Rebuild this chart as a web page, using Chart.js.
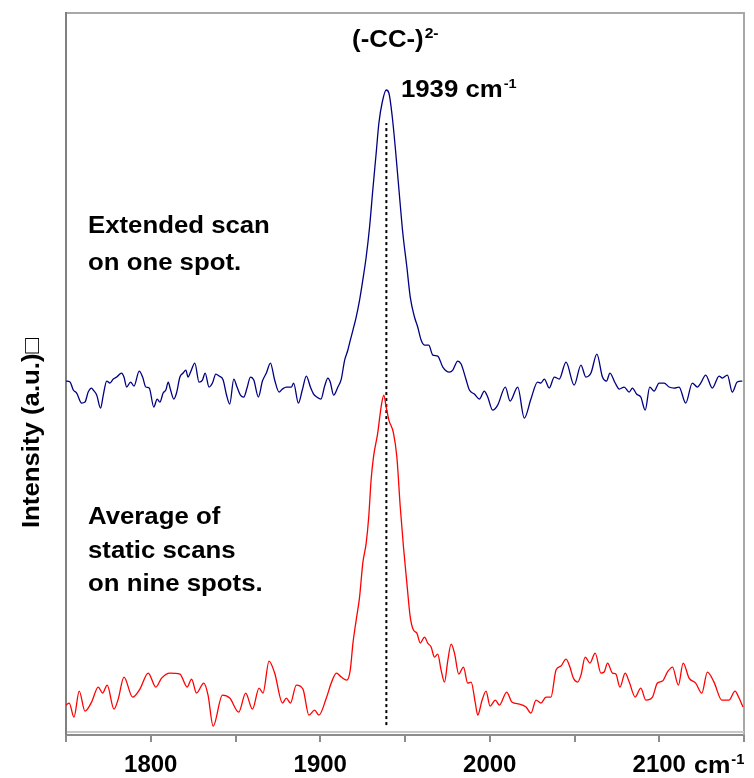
<!DOCTYPE html>
<html>
<head>
<meta charset="utf-8">
<script src="https://cdn.jsdelivr.net/npm/chart.js@4.4.1/dist/chart.umd.min.js"></script>
<style>
    html, body { margin: 0; padding: 0; background: #ffffff; }
    #wrap { width: 754px; height: 778px; position: relative; }
</style>
</head>
<body>
<div id="wrap"><canvas id="spectra"></canvas></div>
<script>
/*
    Raman spectra of the (-CC-)2- band, two measurements offset vertically.
*/

//Extended scan on one spot (blue), wavenumber in cm-1 and intensity in a.u.
const blueWn = [1750,1752.4,1754.3,1756.3,1759.2,1761.2,1763.1,1765.1,1766.1,1768.1,
    1770.4,1772,1774,1775.9,1777.9,1779.9,1782.8,1784.2,1785.8,1788.1,
    1790.1,1793.2,1795.2,1797.1,1799.1,1801.8,1803.8,1805.4,1807.3,1808.9,
    1810.3,1811.7,1813.6,1815.2,1817.2,1819.1,1820.7,1822,1823.5,1826,
    1828.5,1830.5,1832.1,1834.4,1836.4,1838.4,1840.3,1842.7,1844.7,1846.6,
    1849,1850.9,1852.9,1854.9,1856.8,1858.8,1860.8,1863.5,1865.9,1868.2,
    1870.6,1873.1,1875.7,1877.7,1880,1883,1884.3,1887.1,1889.4,1891.8,
    1894.2,1896.1,1898,1900.4,1902.6,1904.5,1905.9,1907.9,1910.4,1912.4,
    1914.4,1916.3,1917.3,1919.3,1921.2,1923.2,1925.1,1927.1,1929.1,1931,
    1933,1934.6,1936.6,1938.9,1940.5,1942.5,1944.4,1946.8,1948.7,1951.1,
    1953.1,1955.6,1957.5,1959.5,1961.5,1964,1966.4,1969.3,1972.3,1976.2,
    1978.2,1981.1,1983.1,1986.1,1988,1990.9,1993.9,1996.8,1998.8,2001.7,
    2004.7,2009.2,2012,2016.5,2020.4,2024.3,2028.2,2030.2,2032.2,2035.1,
    2038.1,2041,2045,2049.8,2053.8,2056.7,2059.7,2063.2,2066.5,2068.9,
    2070.9,2074,2076.4,2079.3,2082.3,2084.2,2086.6,2089.1,2091.7,2094.4,
    2097,2099.9,2102.9,2105.8,2108.8,2111.7,2115.6,2119.5,2122.5,2124.5,
    2127.4,2131.3,2135.3,2137.2,2140.2,2143.1,2146,2149];
const blueI = [352,351,343,340,330,331,341,345,343,338,
    325,338,352,350,354,356,360,356,346,351,
    347,362,356,346,345,326,334,331,340,343,
    351,343,334,340,356,360,363,356,361,370,
    351,353,360,346,350,359,357,353,338,329,
    354,346,338,336,345,356,353,336,352,360,
    370,353,341,344,346,346,350,330,343,357,
    346,339,336,334,347,355,351,338,346,354,
    373,383,390,403,416,433,453,476,506,543,
    580,610,631,643,640,616,583,536,500,466,
    436,416,406,393,388,388,378,377,366,361,
    363,372,369,353,343,339,334,342,336,323,
    328,346,332,346,315,334,351,350,354,345,
    356,354,371,348,368,356,360,379,356,352,
    360,350,344,346,341,345,339,336,323,346,
    342,350,350,346,345,346,330,350,346,350,
    358,345,357,355,358,341,351,352];

//Average of static scans on nine spots (red)
const redWn = [1750,1751.9,1754.7,1757.8,1761.2,1765.1,1769,1771.6,1774.3,1778.3,
    1780.8,1784.2,1789.3,1793.6,1798.5,1803,1806.4,1811.3,1817.2,1821.5,
    1824.1,1827,1831.3,1833.8,1836.8,1842.3,1846.6,1851.9,1856,1860,
    1863.9,1866.2,1869.8,1873.1,1877.7,1880,1882.4,1885.9,1889.8,1893.3,
    1896.7,1899.2,1903.6,1906.5,1909.5,1912.4,1915.7,1917.7,1919.3,1921.2,
    1923.2,1925.1,1927.1,1928.6,1930,1931.4,1933.9,1935.9,1937.5,1938.9,
    1940.5,1943.2,1945.2,1947.2,1949.1,1951.1,1953.1,1955,1957,1959,
    1961.5,1963.4,1965.4,1967.4,1969.3,1971.3,1973.3,1975.2,1977.2,1979.2,
    1981.7,1984.5,1987,1989,1991.5,1992.9,1995.5,1997.8,2000.2,2003.3,
    2005.7,2010,2013.1,2017.4,2021.4,2024.3,2027.3,2030.2,2033.2,2036.1,
    2039.1,2042,2045,2047.3,2049.3,2051.8,2053.8,2056.3,2059.1,2062.2,
    2065.6,2067.5,2069.5,2072.4,2074.4,2076.8,2079.9,2082.3,2085.8,2089.1,
    2092.1,2096,2098.9,2101.9,2104.8,2107.8,2111.3,2114.1,2117.6,2121.5,
    2125.1,2128.4,2132.3,2136.9,2141.2,2144.7,2147.1,2149.4];
const redI = [28,30,16,42,22,31,46,40,48,24,
    34,56,36,44,60,46,55,60,59,46,
    54,40,50,38,7,38,35,21,40,24,
    45,40,72,60,30,35,30,48,44,18,
    23,18,35,50,60,56,53,63,90,113,
    136,170,190,216,253,276,300,326,338,326,
    313,300,276,226,186,150,116,103,100,90,
    96,90,86,76,79,63,51,72,89,80,
    59,66,50,51,30,18,33,42,27,33,
    28,41,31,29,26,20,33,30,36,36,
    63,67,74,66,55,51,58,76,70,80,
    60,61,70,60,59,46,60,51,36,45,
    33,36,50,52,61,66,48,70,55,50,
    40,61,51,33,33,42,35,26];

//Peak marker (dotted line) and axis settings
const peakWn = 1939;
const peakSpan = [8, 610];
const xMin = 1750, xMax = 2150, xStep = 50, xLabelStep = 100;
const yMin = -2, yMax = 720;

//Text labels, anchored in data units (left edge, baseline)
const notes = [
    {text: "(-CC-)", sup: "2-", wn: 1918.8, at: 686, size: 23, supSize: 14},
    {text: "1939 cm", sup: "-1", wn: 1947.6, at: 636, size: 23, supSize: 13},
    {text: "Extended scan", wn: 1763, at: 500, size: 23},
    {text: "on one spot.", wn: 1763, at: 463, size: 23},
    {text: "Average of", wn: 1763, at: 209, size: 23},
    {text: "static scans", wn: 1763, at: 175, size: 23},
    {text: "on nine spots.", wn: 1763, at: 142, size: 23},
];
const yTitle = "Intensity (a.u.)\u25A1";

const FONT = '"Liberation Sans", Arial, sans-serif';
const STRETCH = 1.12;

function toPoints(xs, ys){
    return xs.map((x, i) => ({x: x, y: ys[i]}));
}

//Draws bold text with a slight horizontal stretch, returns its width
function boldText(ctx, str, x, y, size, stretch){
    ctx.save();
    ctx.translate(x, y);
    ctx.scale(stretch, 1);
    ctx.font = `bold ${size}px ${FONT}`;
    ctx.fillStyle = "#000000";
    ctx.textBaseline = "alphabetic";
    ctx.textAlign = "left";
    ctx.fillText(str, 0, 0);
    let w = ctx.measureText(str).width * stretch;
    ctx.restore();
    return w;
}

const framePlugin = {
    id: "frame",
    beforeDatasetsDraw(chart){
        let {ctx, chartArea: a} = chart;
        ctx.save();
        ctx.lineWidth = 2;
        ctx.strokeStyle = "#a8a8a8";
        ctx.beginPath();
        ctx.moveTo(a.left, a.top);
        ctx.lineTo(a.right, a.top);
        ctx.lineTo(a.right, a.bottom);
        ctx.stroke();
        ctx.strokeStyle = "#c8c8c8";
        ctx.beginPath();
        ctx.moveTo(a.left, a.bottom - 3);
        ctx.lineTo(a.right, a.bottom - 3);
        ctx.stroke();
        ctx.strokeStyle = "#808080";
        ctx.beginPath();
        ctx.moveTo(a.left, a.top - 1);
        ctx.lineTo(a.left, a.bottom);
        ctx.stroke();
        ctx.restore();
    },
    afterDraw(chart){
        let ctx = chart.ctx,
            xs = chart.scales.x,
            ys = chart.scales.y,
            a = chart.chartArea;

        notes.forEach(n => {
            let x = xs.getPixelForValue(n.wn),
                y = ys.getPixelForValue(n.at);
            let w = boldText(ctx, n.text, x, y, n.size, STRETCH);
            if(n.sup){
                boldText(ctx, n.sup, x + w + 1, y - n.size * 0.4, n.supSize, STRETCH);
            }
        });

        //unit after the 2100 tick label
        ctx.save();
        ctx.font = `bold 24px ${FONT}`;
        let lw = ctx.measureText("2100").width;
        ctx.restore();
        let ux = xs.getPixelForValue(2100) + lw / 2 + 8,
            uy = a.bottom + 38;
        let cw = boldText(ctx, "cm", ux, uy, 24, 1.05);
        boldText(ctx, "-1", ux + cw + 1, uy - 9, 14, 1.05);

        //y axis title
        ctx.save();
        ctx.translate(33, 433);
        ctx.rotate(-Math.PI / 2);
        ctx.scale(STRETCH, 1);
        ctx.font = `bold 23px ${FONT}`;
        ctx.fillStyle = "#000000";
        ctx.textAlign = "center";
        ctx.textBaseline = "middle";
        ctx.fillText(yTitle, 0, 0);
        ctx.restore();
    },
};

new Chart("spectra", {
    type: "line",
    data: {
        datasets: [
            {
                label: "Extended scan on one spot",
                data: toPoints(blueWn, blueI),
                borderColor: "#000080",
                borderWidth: 1.3,
                pointRadius: 0,
                cubicInterpolationMode: "monotone",
                fill: false,
            },
            {
                label: "Average of static scans on nine spots",
                data: toPoints(redWn, redI),
                borderColor: "#ff0000",
                borderWidth: 1.3,
                pointRadius: 0,
                cubicInterpolationMode: "monotone",
                fill: false,
            },
            {
                label: "1939 cm-1",
                data: [{x: peakWn, y: peakSpan[0]}, {x: peakWn, y: peakSpan[1]}],
                borderColor: "#000000",
                borderWidth: 2,
                borderDash: [3, 3],
                pointRadius: 0,
                fill: false,
            },
        ],
    },
    options: {
        responsive: true,
        maintainAspectRatio: false,
        animation: false,
        layout: {padding: {left: 66, right: 8, top: 13, bottom: -10}},
        plugins: {
            legend: {display: false},
            tooltip: {enabled: false},
        },
        scales: {
            x: {
                type: "linear",
                min: xMin,
                max: xMax,
                grid: {
                    drawOnChartArea: false,
                    drawTicks: true,
                    tickLength: 7,
                    color: "#8c8c8c",
                    lineWidth: 2,
                },
                border: {display: true, color: "#8c8c8c", width: 2},
                ticks: {
                    stepSize: xStep,
                    autoSkip: false,
                    maxRotation: 0,
                    padding: 10,
                    color: "#000000",
                    font: {family: FONT, size: 24, weight: "bold", lineHeight: 1.08},
                    callback: v => (v % xLabelStep === 0 ? String(v) : ""),
                },
            },
            y: {
                display: false,
                min: yMin,
                max: yMax,
            },
        },
    },
    plugins: [framePlugin],
});
</script>
</body>
</html>
